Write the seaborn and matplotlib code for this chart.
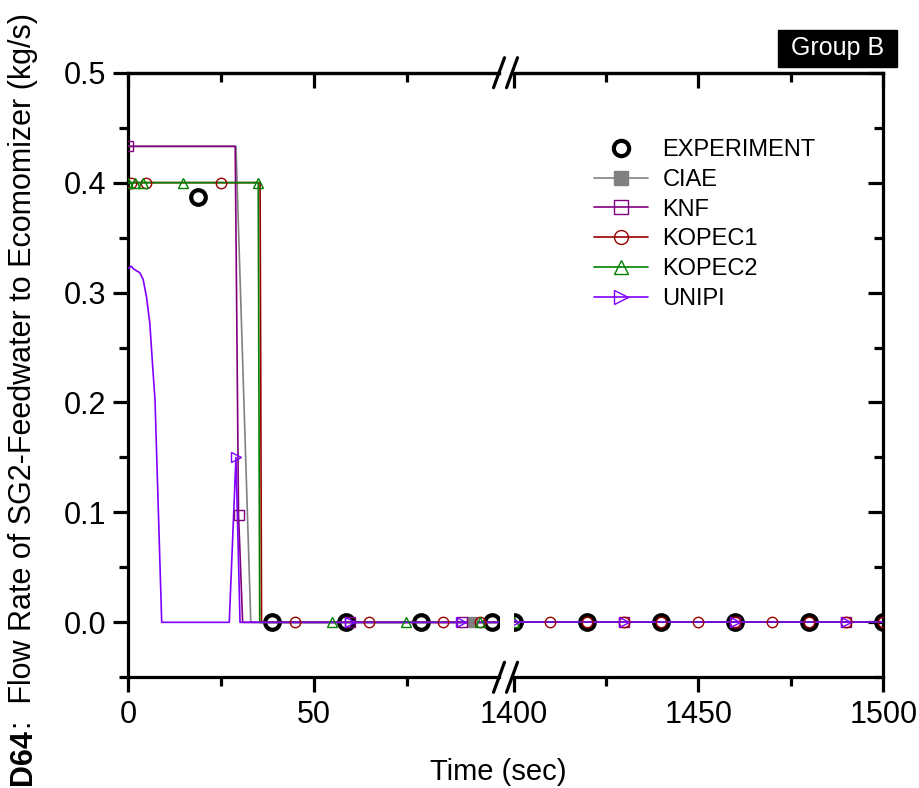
import matplotlib
matplotlib.use("Agg")
import matplotlib.pyplot as plt
from matplotlib.lines import Line2D
from matplotlib.patches import Rectangle
from matplotlib.ticker import FixedLocator, MultipleLocator, FormatStrFormatter
import seaborn as sns

# ---------------- data ----------------
# experiment points
exp_t = [18.9, 38.7, 58.6, 78.8, 97.9, 1400, 1420, 1440, 1460, 1480, 1500]
exp_v = [0.387, 0, 0, 0, 0, 0, 0, 0, 0, 0, 0]

# code results: line vertices
ciae_t = [0, 29.0, 33.0, 1500]
ciae_v = [0.433, 0.433, 0.0, 0.0]
knf_t = [0, 28.8, 29.7, 30.8, 1500]
knf_v = [0.433, 0.433, 0.098, 0.0, 0.0]
kopec1_t = [0, 35.5, 35.9, 1500]
kopec1_v = [0.4, 0.4, 0.0, 0.0]
kopec2_t = [0, 35.0, 35.4, 1500]
kopec2_v = [0.4, 0.4, 0.0, 0.0]
unipi_t = [0, 0.8, 1.4, 3.1, 4.0, 4.9, 5.8, 6.5, 7.2, 9.0, 27.2, 29.0, 30.1, 1500]
unipi_v = [0.322, 0.324, 0.3215, 0.318, 0.312, 0.296, 0.272, 0.236, 0.202, 0.0, 0.0, 0.150, 0.0, 0.0]

# code results: marker positions
ciae_mt = [92.6]
ciae_mv = [0.0]
knf_mt = [0, 29.7, 59.7, 89.9, 1430, 1460, 1490]
knf_mv = [0.433, 0.098, 0, 0, 0, 0, 0]
kopec1_mt = [0.8, 4.9, 24.9, 44.9, 64.8, 84.7, 94.7,
             1410, 1420, 1430, 1440, 1450, 1460, 1470, 1480, 1490, 1500]
kopec1_mv = [0.4, 0.4, 0.4] + [0.0] * 14
kopec2_mt = [0, 1.8, 3.9, 14.7, 35.0, 54.9, 74.8, 94.7, 1400]
kopec2_mv = [0.4, 0.4, 0.4, 0.4, 0.4, 0, 0, 0, 0]
unipi_mt = [29.0, 59.7, 89.6, 1400, 1430, 1460, 1490]
unipi_mv = [0.150, 0, 0, 0, 0, 0, 0]

codes = ["CIAE", "KNF", "KOPEC1", "KOPEC2", "UNIPI"]

# ---------------- style ----------------
sns.set_theme(style="ticks")
plt.rcParams['font.family'] = ['Liberation Sans', 'DejaVu Sans']
for k in ('text.color', 'axes.edgecolor', 'axes.labelcolor', 'xtick.color', 'ytick.color'):
    plt.rcParams[k] = 'black'

W, H = 920, 788
fig = plt.figure(figsize=(W / 100, H / 100), dpi=100)


def px_box(x0, y0, x1, y1):
    return [x0 / W, 1 - y1 / H, (x1 - x0) / W, (y1 - y0) / H]


ax_l = fig.add_axes(px_box(128.3, 72.7, 499.5, 677.3))
ax_r = fig.add_axes(px_box(513.5, 72.7, 883.3, 677.3))

series = [
    (ciae_t, ciae_v, ciae_mt, ciae_mv, "#808080", "s", "#808080"),
    (knf_t, knf_v, knf_mt, knf_mv, "#800080", "s", "none"),
    (kopec1_t, kopec1_v, kopec1_mt, kopec1_mv, "#990000", "o", "none"),
    (kopec2_t, kopec2_v, kopec2_mt, kopec2_mv, "#008000", "^", "none"),
    (unipi_t, unipi_v, unipi_mt, unipi_mv, "#8000FF", ">", "none"),
]

SPW = 2.3
for ax in (ax_l, ax_r):
    ax.plot(exp_t, exp_v, ls="none", marker="o", ms=10.5, mew=3,
            mec="black", mfc="none", zorder=2)
    for t, v, mt, mv, col, mk, fc in series:
        sns.lineplot(x=t, y=v, ax=ax, color=col, lw=1.2, sort=False,
                     estimator=None, legend=False, zorder=3)
        ax.plot(mt, mv, ls="none", marker=mk, ms=7.5, mew=1, mec=col,
                mfc=fc, zorder=4)
    ax.set_ylim(-0.05, 0.5)
    ax.yaxis.set_major_locator(MultipleLocator(0.1))
    ax.yaxis.set_minor_locator(MultipleLocator(0.05))
    ax.yaxis.set_major_formatter(FormatStrFormatter('%.1f'))
    ax.set_xlabel("")
    ax.set_ylabel("")
    for s in ax.spines.values():
        s.set_linewidth(SPW)
    ax.tick_params(which='major', length=11, width=SPW, labelsize=22, pad=5)
    ax.tick_params(which='minor', length=6.5, width=SPW)
    ax.tick_params(axis='x', which='both', direction='out', top=False)

ax_l.set_xlim(0, 100)
ax_l.xaxis.set_major_locator(FixedLocator([0, 50]))
ax_l.xaxis.set_minor_locator(FixedLocator([25, 75]))
ax_r.set_xlim(1400, 1500)
ax_r.xaxis.set_major_locator(FixedLocator([1400, 1450, 1500]))
ax_r.xaxis.set_minor_locator(FixedLocator([1425, 1475]))

ax_l.spines['right'].set_visible(False)
ax_r.spines['left'].set_visible(False)
ax_l.tick_params(axis='y', which='both', direction='out', left=True, right=False)
ax_r.tick_params(axis='y', which='both', direction='in', left=False,
                 labelleft=False, right=True)

# top ticks point inward
for ax in (ax_l, ax_r):
    sec = ax.secondary_xaxis('top')
    sec.xaxis.set_major_locator(FixedLocator(ax.xaxis.get_majorticklocs()))
    sec.xaxis.set_minor_locator(FixedLocator(ax.xaxis.get_minorticklocs()))
    sec.tick_params(which='both', direction='in', labeltop=False, width=SPW)
    sec.tick_params(which='major', length=11)
    sec.tick_params(which='minor', length=6.5)
    sec.spines['top'].set_linewidth(SPW)

# axis break marks
for yc in (72.7, 677.3):
    for xc in (499, 512):
        fig.add_artist(Line2D([(xc - 5.5) / W, (xc + 5.5) / W],
                              [1 - (yc + 15) / H, 1 - (yc - 15) / H],
                              transform=fig.transFigure, color='black', lw=SPW))

# legend
handles = [Line2D([], [], ls='none', marker='o', ms=11, mew=3, mec='black', mfc='none')]
for t, v, mt, mv, col, mk, fc in series:
    handles.append(Line2D([], [], color=col, lw=1.2, marker=mk, ms=10, mew=1,
                          mec=col, mfc=fc))
fig.legend(handles, ["EXPERIMENT"] + codes, loc='upper left',
           bbox_to_anchor=(594 / W, 1 - 139 / H), frameon=False, fontsize=17,
           borderpad=0, borderaxespad=0, handlelength=2.3, handletextpad=0.6,
           labelspacing=0.33)

# group tag
fig.add_artist(Rectangle((778 / W, 1 - 67 / H), 119 / W, 37 / H,
                         transform=fig.transFigure, color='black'))
fig.text(837.5 / W, 1 - 48.5 / H, "Group B", color='white', fontsize=18,
         ha='center', va='center')

# axis titles
fig.text(498 / W, 1 - 780 / H, "Time (sec)", ha='center', va='baseline', fontsize=21)
t1 = fig.text(31 / W, 1 - 785 / H, "D64", rotation=90, rotation_mode='anchor',
              ha='left', va='baseline', fontsize=22, fontweight='bold')
fig.canvas.draw()
top = t1.get_window_extent().y1 / fig.bbox.height
fig.text(31 / W, top, ":  Flow Rate of SG2-Feedwater to Ecomomizer (kg/s)",
         rotation=90, rotation_mode='anchor', ha='left', va='baseline', fontsize=22)

fig.savefig("out.png", dpi=100)
